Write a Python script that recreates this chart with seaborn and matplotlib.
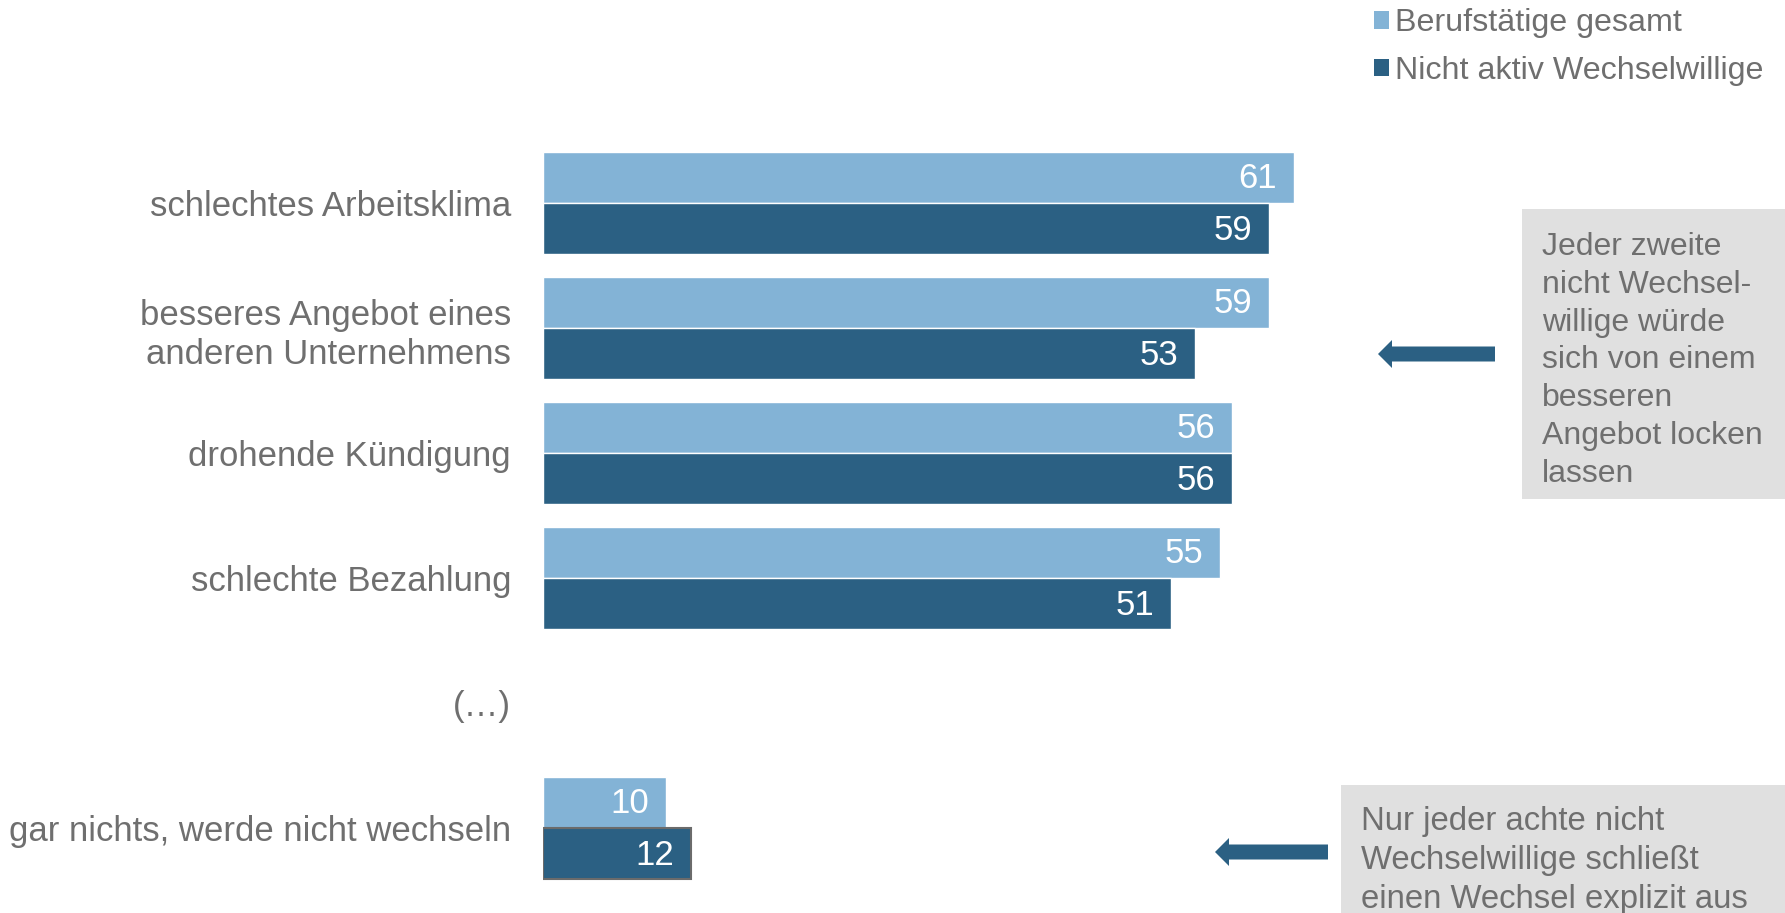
import numpy as np
import pandas as pd
import matplotlib
matplotlib.use("Agg")
import matplotlib.pyplot as plt
import seaborn as sns
from matplotlib.patches import FancyArrow, Rectangle, Patch

# ---- data ----
categories = ["schlechtes Arbeitsklima",
              "besseres Angebot eines\nanderen Unternehmens",
              "drohende Kündigung",
              "schlechte Bezahlung",
              "(…)",
              "gar nichts, werde nicht wechseln"]
series = ["Berufstätige gesamt", "Nicht aktiv Wechselwillige"]
gesamt = [61, 59, 56, 55, np.nan, 10]
nicht_aktiv = [59, 53, 56, 51, np.nan, 12]
colors = ["#83B3D6", "#2B6083"]
note1 = "Jeder zweite\nnicht Wechsel-\nwillige würde\nsich von einem\nbesseren\nAngebot locken\nlassen"
note2 = "Nur jeder achte nicht\nWechselwillige schließt\neinen Wechsel explizit aus"

sns.set_style("white")
plt.rcParams['font.family'] = ['Liberation Sans', 'DejaVu Sans']
GRAY = "#6F6F6F"

W, H = 1785, 913
fig = plt.figure(figsize=(W / 100, H / 100), dpi=100)
ax = fig.add_axes([543 / W, 1 - 890.5 / H, 1231 / W, 750 / H])

df = pd.DataFrame({
    "Kategorie": categories * 2,
    "Serie": [series[0]] * len(categories) + [series[1]] * len(categories),
    "Wert": gesamt + nicht_aktiv,
})
sns.barplot(data=df, y="Kategorie", x="Wert", hue="Serie", order=categories,
            hue_order=series, palette=colors, width=0.82, orient="h", ax=ax,
            legend=False, saturation=1, errorbar=None)

ax.set_xlim(0, 100)
ax.set_ylim(5.5, -0.5)
ax.set_xticks([])
ax.set_xlabel("")
ax.set_ylabel("")
for s in ax.spines.values():
    s.set_visible(False)
ax.tick_params(axis="y", length=0, pad=23, labelsize=25, labelcolor=GRAY)
for t in ax.get_yticklabels():
    t.set_linespacing(1.25)

for p in ax.patches:
    w = p.get_width()
    if np.isfinite(w) and w > 0:
        ax.annotate(f"{w:.0f}", xy=(w, p.get_y() + p.get_height() / 2),
                    xytext=(-12, -1), textcoords="offset points",
                    ha="right", va="center", color="white", fontsize=25)
        if w == 12:
            p.set_edgecolor("#6B6B6B")
            p.set_linewidth(1.5)

handles = [Patch(facecolor=c, edgecolor="none") for c in colors]
fig.legend(handles, series, loc="upper left", bbox_to_anchor=(1367.5 / W, 0.998),
           frameon=False, fontsize=23.2, labelcolor=GRAY, handlelength=0.47,
           handleheight=0.47, handletextpad=0.17, labelspacing=0.55,
           borderaxespad=0, borderpad=0.2)

# overlay in pixel coordinates
ov = fig.add_axes([0, 0, 1, 1])
ov.set_xlim(0, W)
ov.set_ylim(H, 0)
ov.axis("off")
ov.patch.set_alpha(0)

ov.add_patch(Rectangle((1522, 209), W - 1522, 290, color="#E0E0E0", lw=0))
ov.text(1542, 232, note1, va="top", ha="left", fontsize=23, color=GRAY,
        linespacing=1.34)
ov.add_patch(FancyArrow(1495, 354, -(1495 - 1378), 0, width=15, head_width=28,
                        head_length=14, length_includes_head=True,
                        color=colors[1], lw=0))

ov.add_patch(Rectangle((1341, 785), W - 1341, H - 785, color="#E0E0E0", lw=0))
ov.text(1361, 806, note2, va="top", ha="left", fontsize=23.7, color=GRAY,
        linespacing=1.33)
ov.add_patch(FancyArrow(1328, 852, -(1328 - 1215), 0, width=15, head_width=28,
                        head_length=14, length_includes_head=True,
                        color=colors[1], lw=0))

fig.savefig("out.png", dpi=100)
